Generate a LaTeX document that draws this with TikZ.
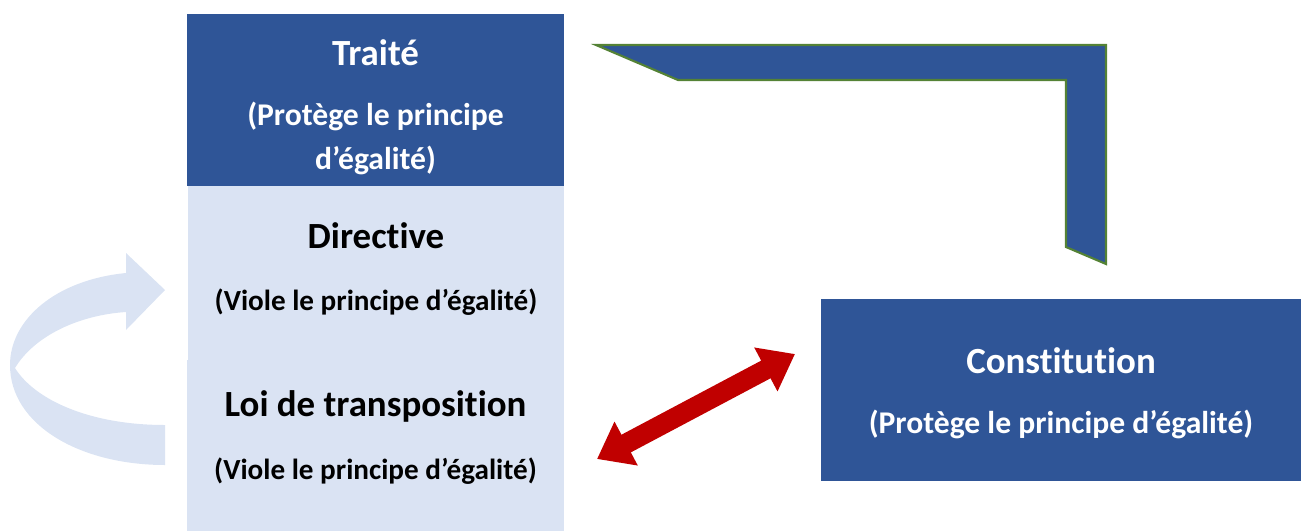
\documentclass[tikz,border=0pt]{standalone}
\usepackage{fontspec}
\setmainfont{Carlito}[Ligatures=NoCommon]
\usepackage{xcolor}
\usepackage{tikz}
\usetikzlibrary{arrows.meta,positioning}
\definecolor{darkblue}{HTML}{2F5597}
\definecolor{paleblue}{HTML}{DAE3F3}
\definecolor{darkred}{HTML}{C00000}
\definecolor{leafgreen}{HTML}{548235}

\begin{document}
\begin{tikzpicture}[x=0.02cm, y=-0.02cm,
	box/.style = {shape=rectangle, inner sep=0pt,
	minimum width=7.54cm, minimum height=3.44cm},
	darkbox/.style = {box, fill=darkblue},
	palebox/.style = {box, fill=paleblue},
	title/.style = {font=\fontsize{21}{25}\selectfont\bfseries, align=center},
	sub/.style = {font=\fontsize{18}{25}\selectfont\bfseries, align=center},
	smallsub/.style = {font=\fontsize{16.6}{25}\selectfont\bfseries, align=center},
	bent/.style = {fill=darkblue, draw=leafgreen, line width=1.2pt, line join=miter},
	clash/.style = {darkred, line width=0.4cm,
	{Triangle[length=0.66cm,width=0.95cm]}-{Triangle[length=0.66cm,width=0.95cm]}}
]
\useasboundingbox (0,0) rectangle (1301,531);

\node[darkbox] (traite) at (375.5,100) {};
\node[palebox, minimum height=3.48cm] (directive) at (376,273) {};
\node[palebox, minimum height=3.42cm] (loi) at (375.5,445.5) {};
\node[darkbox, minimum width=9.6cm, minimum height=3.64cm] (constitution) at (1061,390) {};

\node[title, text=white] (traiteT) at (375.5,53) {Traité};
\node[sub, text=white] (traiteS) at (375.5,138) {(Protège le principe\\d’égalité)};
\node[title] (directiveT) at (376,236) {Directive};
\node[smallsub] (directiveS) at (376,302) {(Viole le principe d’égalité)};
\node[title] (loiT) at (375.5,406) {Loi de transposition};
\node[smallsub] (loiS) at (375.5,471) {(Viole le principe d’égalité)};
\node[title, text=white] (constitutionT) at (1061,361) {Constitution};
\node[sub, text=white] (constitutionS) at (1061,424) {(Protège le principe d’égalité)};

\draw[bent] (596,45) -- (1106,45) -- (1106,264) -- (1066,247)
	-- (1066,80) -- (678,80) -- cycle;

\fill[paleblue] (165,425) .. controls (90,425) and (35,400) .. (15,368)
	.. controls (35,335) and (80,315) .. (126,312)
	-- (126,330) -- (165,290) -- (126,253) -- (126,273)
	.. controls (55,280) and (10,320) .. (10,365)
	.. controls (10,425) and (80,465) .. (165,465) -- cycle;

\coordinate (loiend) at (597,459);
\coordinate (constend) at (795,354);
\draw[clash] (loiend) -- (constend);
\end{tikzpicture}
\end{document}
